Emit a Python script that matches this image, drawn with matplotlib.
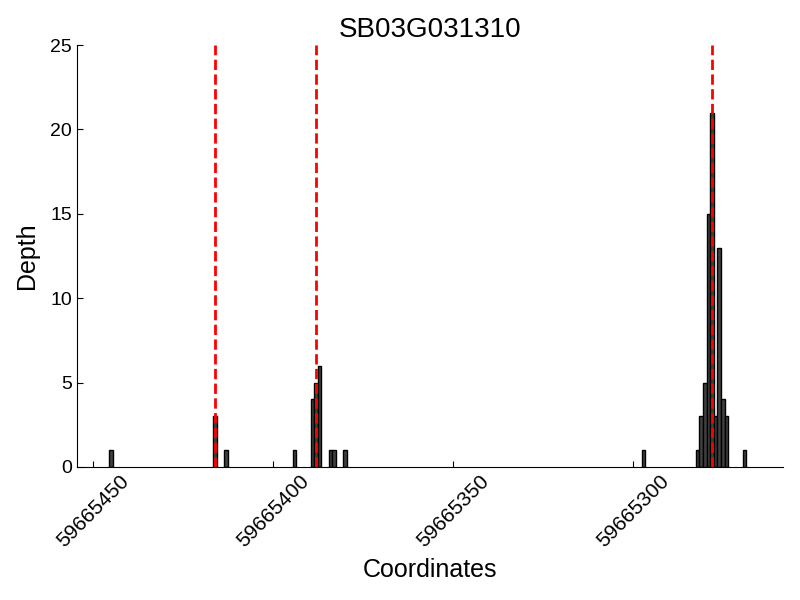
import matplotlib
matplotlib.use("Agg")
import matplotlib.pyplot as plt

plt.rcParams['font.family'] = ['Liberation Sans', 'DejaVu Sans']

# read depth per coordinate
coords = [59665445, 59665416, 59665413,
          59665394, 59665389, 59665388, 59665387, 59665384, 59665383, 59665380,
          59665297, 59665282, 59665281, 59665280, 59665279, 59665278,
          59665277, 59665276, 59665275, 59665274, 59665269]
depth = [1, 3, 1,
         1, 4, 5, 6, 1, 1, 1,
         1, 1, 3, 5, 15, 21,
         3, 13, 4, 3, 1]

# red dashed markers
sites = [59665416, 59665388, 59665278]

xticks = [59665450, 59665400, 59665350, 59665300]

fig = plt.figure(figsize=(8, 6), dpi=100)
ax = fig.add_axes([0.09625, 0.2217, 0.8825, 0.7033])

ax.bar(coords, depth, width=1.0, color="#404040", edgecolor="black", linewidth=1)
for s in sites:
    ax.axvline(s, color="red", linestyle="--", linewidth=2, zorder=3)

ax.set_xlim(59665454.4, 59665258.3)
ax.set_ylim(0, 25)
ax.set_xticks(xticks)
ax.set_xticklabels([str(t) for t in xticks], rotation=45, ha="center")
ax.set_yticks([0, 5, 10, 15, 20, 25])

ax.spines["top"].set_visible(False)
ax.spines["right"].set_visible(False)
ax.tick_params(direction="in", length=4, labelsize=15, top=False, right=False)
ax.tick_params(axis="y", labelsize=14)

ax.set_xlabel("Coordinates", fontsize=18, labelpad=5)
ax.set_ylabel("Depth", fontsize=18, labelpad=8)
ax.set_title("SB03G031310", fontsize=20)

fig.savefig("out.png", dpi=100)
